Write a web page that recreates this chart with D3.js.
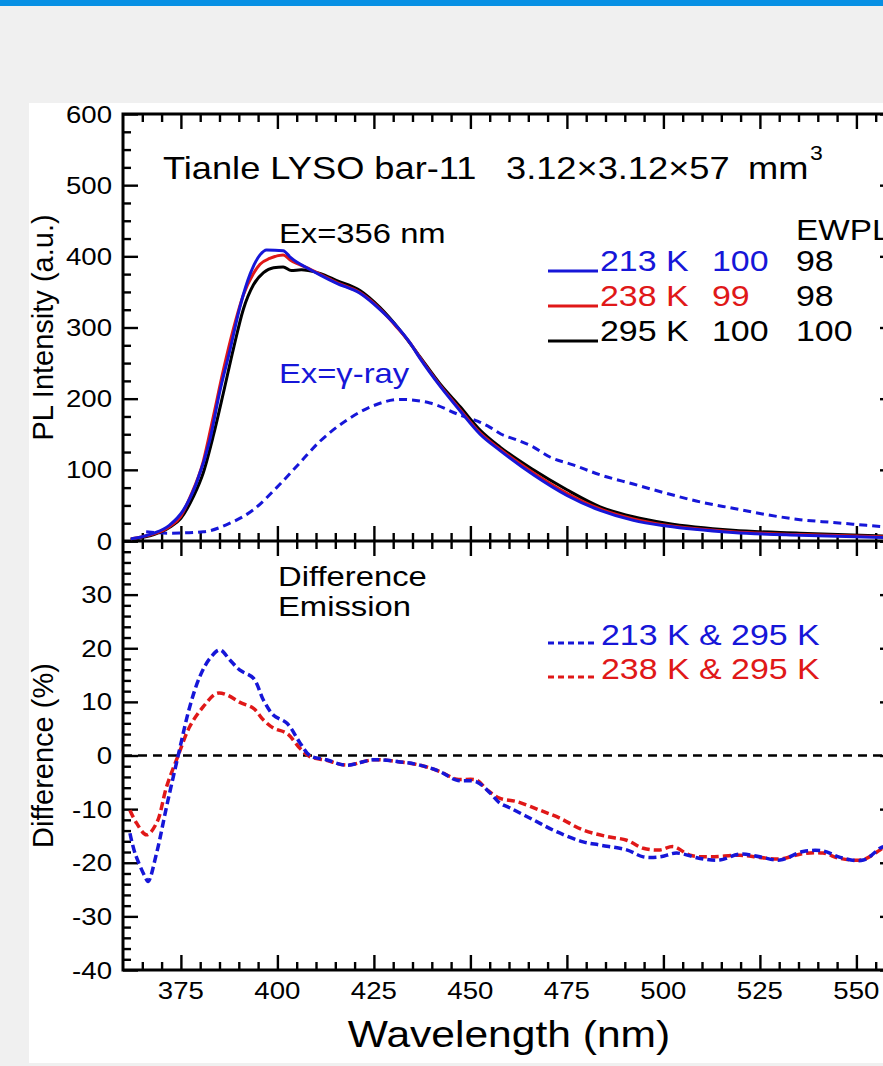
<!DOCTYPE html>
<html>
<head>
<meta charset="utf-8">
<script src="https://cdn.jsdelivr.net/npm/d3@7"></script>
<style>
  html,body{margin:0;padding:0;background:#f0f0f0;}
  text{font-family:'Liberation Sans',Arial,Helvetica,sans-serif;}
</style>
</head>
<body>
<div id="chart"></div>
<script>
// ---- data ----
const lam213=[362,365,368,372,375.6,379,382.5,385,387.7,390.3,393,395.5,397.2,401.5,403.3,405,407.6,411,415.4,421.4,426.6,431,434.4,436.9,442.1,447.3,452.5,457.7,466.3,475,483.6,492.2,500.8,518,535.4,557];
const pl213=[3,6,11,22,43,81,142,208,268,329,376,402,409,408,399,392,384,374,362,348,325,301,278,257,218,183,150,127,93,64,43,29,21,12,8,5];

const lam238=[362,365,368,372,375,377.4,380.8,383.4,386,388.6,391.2,393.8,395.5,398,401.5,403.3,405,407.6,411,415.4,421.4,426.6,431,434.4,436.9,442.1,447.3,452.5,457.7,466.3,475,483.6,492.2,500.8,518,535.4,557];
const pl238=[3,6,10,20,35,62,112,175,240,298,346,376,389,397,402,395,390,384,375,363,349,326,300,278,258,219,185,152,129,96,67,45,31,22,13,9,6];

const lam295=[362,365,368,372,375,378.2,380.8,383.4,386,388.6,391.2,393.8,396.4,399,401.5,403.6,406.2,408,411,415.4,421.4,426.6,431.8,436.9,442.1,447.3,452.5,457.7,466.3,475,483.6,492.2,500.8,518,535.4,557];
const pl295=[2,5,9,19,32,62,96,148,208,270,326,360,377,384,385,380,381,380,376,366,352,328,296,259,221,189,156,132,100,72,48,34,25,15,11,7];

const lamGamma=[366,372,380.8,387.7,393.8,399.8,405,411,418,424.8,431.8,439.5,447.3,452,455,458,462,466,470.6,476.6,483.6,492.2,500.8,509.5,518,526.7,535.4,544,557];
const plGamma=[13,11,13,25,44,75,105,140,170,190,199,194,177,168,160,150,142,133,118,107,93,80,67,55,46,37,30,26,20];

const lamDiff213=[361.8,363.1,365.7,366.5,368.7,371.3,374.3,377.3,379.9,382.5,385.1,387.7,390.3,393.8,396.4,399,402.5,405.9,408.4,412.7,417.9,424.8,431.8,436.9,442.1,446.4,451.6,455.1,457.7,460.3,466.3,472.3,479.2,483.6,490.5,494.8,499.1,503.4,509.5,514.6,519.8,525,530.2,536.2,541.4,545.8,551.8,556.1,557];
const diff213=[-14.5,-18.2,-22.6,-23.5,-18.2,-9.5,0,9.1,14.7,18.1,19.7,17.8,15.9,14.4,10.3,7.5,6,2.3,0,-0.8,-1.8,-0.8,-1.2,-1.8,-3,-4.6,-4.9,-7,-8.9,-9.8,-12,-14.2,-16.1,-16.7,-17.6,-18.9,-18.9,-18.2,-19.2,-19.5,-18.4,-18.9,-19.5,-17.9,-17.8,-19,-19.5,-17.3,-17];

const lamDiff238=[361.8,363.5,366.1,368.7,371.3,374.3,377.3,380.8,384.3,386.9,390.3,393.8,396.4,399,402.5,405.9,408.4,412.7,417.9,424.8,431.8,436.9,442.1,446.4,451.6,454.3,457.7,462,468,473.2,479.2,485.3,490.5,494.8,499.1,502.6,506.9,512.1,519.8,525,530.2,536.2,541.4,545.8,551.8,556.1,557];
const diff238=[-10.2,-12.6,-14.8,-12.6,-5.8,0,5.4,9.1,11.6,11.3,9.9,8.8,6.6,5.1,4.1,1.3,-0.2,-0.9,-1.8,-0.8,-1.2,-1.8,-3,-4.4,-4.6,-6.4,-8,-8.6,-10.2,-11.7,-13.9,-15.1,-15.8,-17.3,-17.6,-17,-18.6,-18.9,-18.6,-19,-19.3,-18.3,-18.2,-19.2,-19.4,-17.6,-17.2];

const xMajor=[375,400,425,450,475,500,525,550];
const yTopMajor=[0,100,200,300,400,500,600];
const yBotMajor=[-40,-30,-20,-10,0,10,20,30,40];
const yBotLabels=[-40,-30,-20,-10,0,10,20,30];

const legendTemps=["213 K","238 K","295 K"];
const legendCol1=["100","99","100"];
const legendCol2=["98","98","100"];
const diffLabels=["213 K & 295 K","238 K & 295 K"];

// ---- layout ----
const W=883, H=1066;
const BLUE="#1616d8", RED="#e01818";
const SX=1.15;

const svg=d3.select("#chart").append("svg").attr("width",W).attr("height",H);
svg.append("rect").attr("width",W).attr("height",H).attr("fill","#f0f0f0");
svg.append("rect").attr("width",W).attr("height",6).attr("fill","#0790e4");
svg.append("rect").attr("x",29).attr("y",103).attr("width",W-29).attr("height",960).attr("fill","#fff");

const x=d3.scaleLinear().domain([360,560]).range([123,895]);
const yT=d3.scaleLinear().domain([0,600]).range([541,114]);
const yB=d3.scaleLinear().domain([-40,40]).range([970,541]);

function txt(g,px,py,s,size,color,anchor){
  return g.append("text")
    .attr("transform",`translate(${px},${py}) scale(${SX},1)`)
    .attr("font-size",size)
    .attr("fill",color||"#000")
    .attr("text-anchor",anchor||"start")
    .text(s);
}

function tickRow(axisFn,scale,vals,size,tx,ty){
  const g=svg.append("g").attr("transform",`translate(${tx},${ty})`)
    .call(axisFn(scale).tickValues(vals).tickSizeInner(size).tickSizeOuter(0).tickFormat(""));
  g.select(".domain").remove();
  g.selectAll("line").attr("stroke","#000").attr("stroke-width",2.4);
  return g;
}

const xMinor=d3.range(365,560,5).filter(v=>v%25!==0);
const yTopMinor=d3.range(25,600,25).filter(v=>v%100!==0);
const yBotMinor=d3.range(-38,40,2).filter(v=>v%10!==0);

// x ticks: top edge, middle line (both sides), bottom edge
[[d3.axisTop,114],[d3.axisBottom,541],[d3.axisTop,541],[d3.axisBottom,970]].forEach(([fn,ty])=>{
  tickRow(fn,x,xMajor,-15,0,ty);
  tickRow(fn,x,xMinor,-8,0,ty);
});
// y ticks: left and right edges
[[d3.axisLeft,123],[d3.axisRight,895]].forEach(([fn,tx])=>{
  tickRow(fn,yT,yTopMajor,-15,tx,0);
  tickRow(fn,yT,yTopMinor,-8,tx,0);
  tickRow(fn,yB,yBotMajor,-15,tx,0);
  tickRow(fn,yB,yBotMinor,-8,tx,0);
});

// frame
svg.append("rect").attr("x",123).attr("y",114).attr("width",895-123).attr("height",970-114)
  .attr("fill","none").attr("stroke","#000").attr("stroke-width",3);
svg.append("line").attr("x1",123).attr("x2",895).attr("y1",541).attr("y2",541)
  .attr("stroke","#000").attr("stroke-width",3);

// tick labels
const labels=svg.append("g");
yTopMajor.forEach(v=>txt(labels,112,yT(v)+8.5,v,24,"#000","end"));
yBotLabels.forEach(v=>txt(labels,112,yB(v)+8.5,v,24,"#000","end"));
xMajor.forEach(v=>txt(labels,x(v),999,v,24,"#000","middle"));

// axis titles
svg.append("text").attr("transform",`translate(53,${(114+541)/2}) rotate(-90)`)
  .attr("text-anchor","middle").attr("font-size",29).text("PL Intensity (a.u.)");
svg.append("text").attr("transform",`translate(53,${(541+970)/2}) rotate(-90)`)
  .attr("text-anchor","middle").attr("font-size",29).text("Difference (%)");
txt(svg,509,1047,"Wavelength (nm)",37,"#000","middle");

// zero line in bottom panel
svg.append("line").attr("x1",123).attr("x2",895).attr("y1",yB(0)).attr("y2",yB(0))
  .attr("stroke","#000").attr("stroke-width",2.5).attr("stroke-dasharray","9,6");

// curves
const lineT=d3.line().x(d=>x(d[0])).y(d=>yT(d[1])).curve(d3.curveMonotoneX);
const lineB=d3.line().x(d=>x(d[0])).y(d=>yB(d[1])).curve(d3.curveCatmullRom.alpha(0.5));
const curves=svg.append("g").attr("fill","none");

curves.append("path").datum(d3.zip(lamGamma,plGamma)).attr("d",lineT)
  .attr("stroke",BLUE).attr("stroke-width",3).attr("stroke-dasharray","8,5");
curves.append("path").datum(d3.zip(lam295,pl295)).attr("d",lineT)
  .attr("stroke","#000").attr("stroke-width",3);
curves.append("path").datum(d3.zip(lam238,pl238)).attr("d",lineT)
  .attr("stroke",RED).attr("stroke-width",3);
curves.append("path").datum(d3.zip(lam213,pl213)).attr("d",lineT)
  .attr("stroke",BLUE).attr("stroke-width",3);

curves.append("path").datum(d3.zip(lamDiff238,diff238)).attr("d",lineB)
  .attr("stroke",RED).attr("stroke-width",3.5).attr("stroke-dasharray","8,4");
curves.append("path").datum(d3.zip(lamDiff213,diff213)).attr("d",lineB)
  .attr("stroke",BLUE).attr("stroke-width",3.5).attr("stroke-dasharray","8,4");

// annotations
txt(svg,163,179,"Tianle LYSO bar-11",31.5);
txt(svg,506,179,"3.12\u00d73.12\u00d757",31.5);
txt(svg,748,179,"mm",31.5);
txt(svg,810,160,"3",20);
txt(svg,279,243,"Ex=356 nm",28.5);
txt(svg,279,383,"Ex=\u03b3-ray",28.5,BLUE);
txt(svg,796,240,"EWPL",29);

const rowColors=[BLUE,RED,"#000"];
const rowY=[271,306,341];
legendTemps.forEach((t,i)=>{
  svg.append("line").attr("x1",548).attr("x2",598).attr("y1",rowY[i]).attr("y2",rowY[i])
    .attr("stroke",rowColors[i]).attr("stroke-width",3);
  txt(svg,600,rowY[i],t,29.5,rowColors[i]);
  txt(svg,712,rowY[i],legendCol1[i],29.5,rowColors[i]);
  txt(svg,796,rowY[i],legendCol2[i],29.5,"#000");
});

txt(svg,278,586,"Difference",28.5);
txt(svg,278,616,"Emission",28.5);
const diffColors=[BLUE,RED];
const diffY=[645,679];
diffLabels.forEach((t,i)=>{
  svg.append("line").attr("x1",548).attr("x2",596).attr("y1",diffY[i]-2).attr("y2",diffY[i]-2)
    .attr("stroke",diffColors[i]).attr("stroke-width",3).attr("stroke-dasharray","6,4");
  txt(svg,601,diffY[i],t,29.5,diffColors[i]);
});
</script>
</body>
</html>
